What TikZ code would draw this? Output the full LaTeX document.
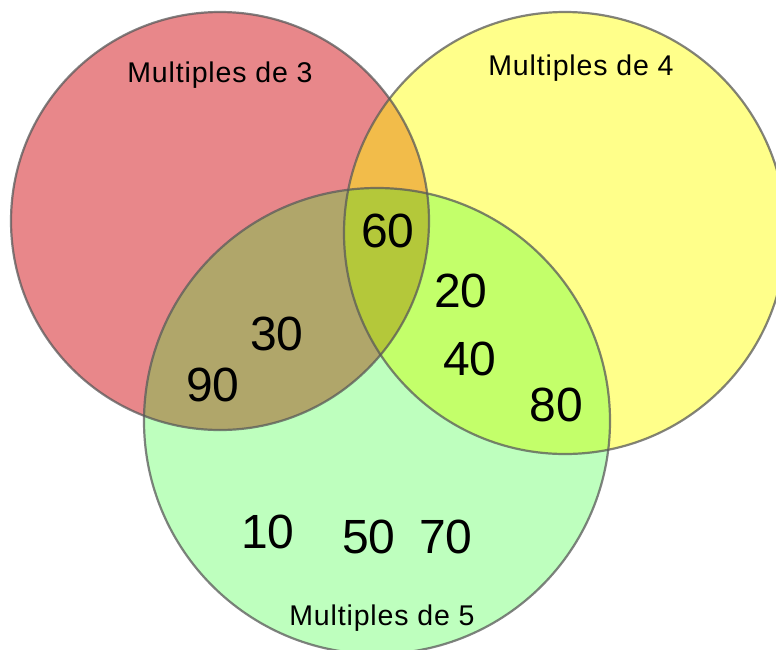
\documentclass[tikz,border=0pt]{standalone}
\usepackage{fontspec}
\setmainfont{Liberation Sans}
\definecolor{rot}{HTML}{E8878A}
\definecolor{gelb}{HTML}{FFFF8A}
\definecolor{gruen}{HTML}{BEFFBE}
\definecolor{rotgelb}{HTML}{F2BC4A}
\definecolor{rotgruen}{HTML}{B0A66A}
\definecolor{gelbgruen}{HTML}{C3FF6A}
\definecolor{alle}{HTML}{B4C83A}
\tikzset{
  zahl/.style={font=\fontsize{48}{48}\selectfont, inner sep=0pt},
  titel/.style={font=\addfontfeature{LetterSpace=3}\fontsize{28.5}{28.5}\selectfont, inner sep=0pt, anchor=base},
  rand/.style={draw=black!65, draw opacity=0.75, line width=2.2pt}
}
\begin{document}
\begin{tikzpicture}[x=1pt,y=-1pt]
        \useasboundingbox (0,0) rectangle (776,649);
        \coordinate (drei) at (220,221);
        \coordinate (vier) at (565,233);
        \coordinate (fuenf) at (377,421);
        \fill[rot] (drei) circle[radius=209pt];
        \fill[gelb] (vier) circle[radius=221pt];
        \fill[gruen] (fuenf) circle[radius=233pt];
        \begin{scope}
            \clip (vier) circle[radius=221pt];
            \fill[gelbgruen] (fuenf) circle[radius=233pt];
        \end{scope}
        \begin{scope}
            \clip (drei) circle[radius=209pt];
            \fill[rotgelb] (vier) circle[radius=221pt];
            \fill[rotgruen] (fuenf) circle[radius=233pt];
            \clip (vier) circle[radius=221pt];
            \fill[alle] (fuenf) circle[radius=233pt];
        \end{scope}
        \draw[rand] (drei) circle[radius=209pt];
        \draw[rand] (vier) circle[radius=221pt];
        \draw[rand] (fuenf) circle[radius=233pt];
        \node[titel] (t3) at (220,82) {Multiples de 3};
        \node[titel] (t4) at (581,75) {Multiples de 4};
        \node[titel] (t5) at (382,625) {Multiples de 5};
        \node[zahl] (z60) at (388,231) {60};
        \node[zahl] (z20) at (461,291) {20};
        \node[zahl] (z40) at (470,359) {40};
        \node[zahl] (z80) at (556,405) {80};
        \node[zahl] (z30) at (277,334) {30};
        \node[zahl] (z90) at (213,385) {90};
        \node[zahl] (z10) at (268,532) {10};
        \node[zahl] (z50) at (369,537) {50};
        \node[zahl] (z70) at (446,537) {70};
    \end{tikzpicture}
\end{document}
